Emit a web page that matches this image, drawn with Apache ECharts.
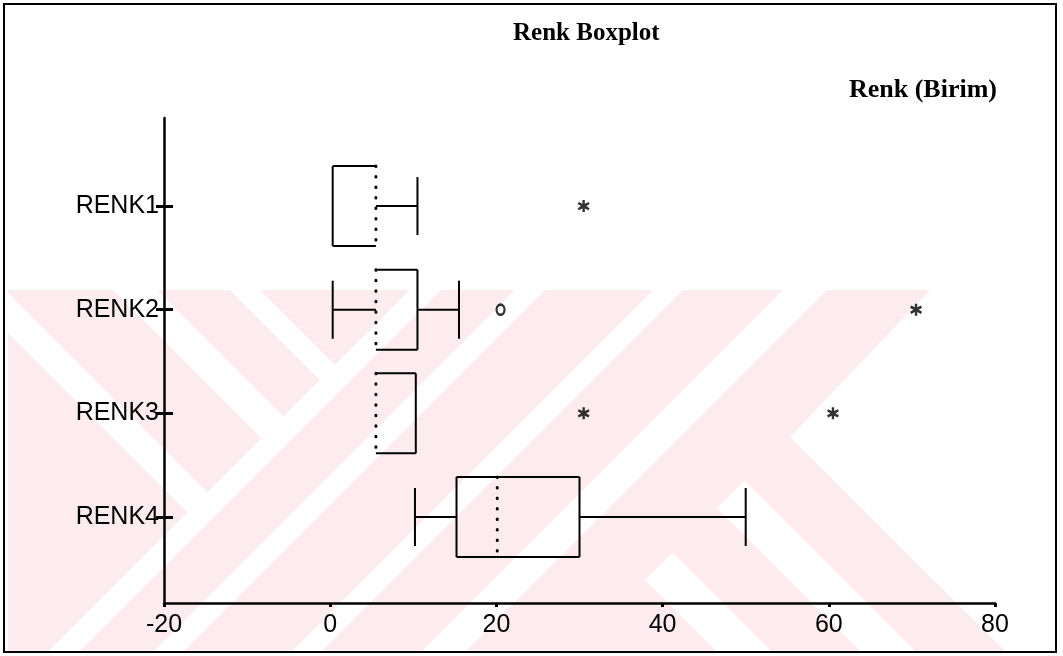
<!DOCTYPE html>
<html>
<head>
<meta charset="utf-8">
<script src="https://cdn.jsdelivr.net/npm/echarts@6/dist/echarts.min.js"></script>
<style>
html,body{margin:0;padding:0;background:#fff;}
#chart{width:1063px;height:656px;}
</style>
</head>
<body>
<div id="chart"></div>
<script>
// ---- data ----
const categories = ['RENK1', 'RENK2', 'RENK3', 'RENK4'];
const whiskerLow = [0.3, 0.3, 5.5, 10.2];
const q1 = [0.3, 5.5, 5.5, 15.2];
const median = [5.5, 5.5, 5.5, 20.1];
const q3 = [5.5, 10.5, 10.3, 30];
const whiskerHigh = [10.5, 15.5, 10.3, 50];
// outliers (o) and extremes (*)
const outlierCat = ['RENK2'];
const outlierVal = [20.5];
const extremeCat = ['RENK1', 'RENK2', 'RENK3', 'RENK3'];
const extremeVal = [30.5, 70.5, 30.5, 60.5];

const chart = echarts.init(document.getElementById('chart'), null, {renderer: 'canvas'});

const boxData = categories.map((c, i) => [i + 1, whiskerLow[i], q1[i], median[i], q3[i], whiskerHigh[i]]);
const outlierData = outlierCat.map((c, i) => [outlierVal[i], categories.indexOf(c) + 1]);
const extremeData = extremeCat.map((c, i) => [extremeVal[i], categories.indexOf(c) + 1]);
const catPos = categories.map((c, i) => i + 1);

function renderBox(params, api) {
  const yv = api.value(0);
  const lo = api.value(1), a = api.value(2), md = api.value(3), b = api.value(4), hi = api.value(5);
  const unit = api.size([0, 1])[1];
  const bh = unit * 0.386, ch = unit * 0.28;
  const cy = api.coord([md, yv])[1];
  const X = v => api.coord([v, yv])[0];
  const xa = X(a), xb = X(b), xm = X(md), xlo = X(lo), xhi = X(hi);
  const st = {stroke: '#000', lineWidth: 2, fill: null};
  const els = [];
  const L = (x1, y1, x2, y2, s) => els.push({type: 'line', shape: {x1, y1, x2, y2}, style: s || st});
  L(xa, cy - bh, xb, cy - bh);
  L(xa, cy + bh, xb, cy + bh);
  if (Math.abs(xa - xm) > 1) L(xa, cy - bh, xa, cy + bh);
  if (Math.abs(xb - xm) > 1) L(xb, cy - bh, xb, cy + bh);
  L(xm, cy - bh, xm, cy + bh, {stroke: '#000', lineWidth: 3, lineDash: [0.5, 10], lineCap: 'round', fill: null});
  if (xa - xlo > 1) { L(xlo, cy, xa, cy); L(xlo, cy - ch, xlo, cy + ch); }
  if (xhi - xb > 1) { L(xb, cy, xhi, cy); L(xhi, cy - ch, xhi, cy + ch); }
  return {type: 'group', children: els};
}

// ---- scanned-page watermark (decoration behind the chart) ----
const PINK = '#fdecef';
const wm = [];
function poly(points, fill, z2) {
  wm.push({type: 'polygon', silent: true, z: -5, z2: z2, shape: {points: points}, style: {fill: fill}});
}
poly([[8, 290], [930, 290], [790, 437], [1005, 651], [8, 651]], PINK, 0);
// "/" white bands (x+y ranges), top y=290 to bottom y=651
[[700, 731], [805, 835], [943, 973], [1073, 1117]].forEach(([k1, k2]) => {
  poly([[k1 - 290, 290], [k2 - 290, 290], [Math.max(k2 - 651, 8), 651], [Math.max(k1 - 651, 8), 651]], '#fff', 1);
});
// "\" white stubs at the upper left, ending at the first "/" band
[[-177, -133], [-60, -30]].forEach(([k1, k2]) => {
  poly([[k1 + 290, 290], [k2 + 290, 290], [(715 + k2) / 2, (715 - k2) / 2], [(715 + k1) / 2, (715 - k1) / 2]], '#fff', 1);
});
poly([[8, 293], [8, 333], [195, 520], [215, 500]], '#fff', 1);
// "\" white stubs at the lower right, starting at the outer "/" edge
[[65, 120], [209, 264]].forEach(([k1, k2]) => {
  poly([[(1225 + k1) / 2, (1225 - k1) / 2], [(1225 + k2) / 2, (1225 - k2) / 2], [k2 + 651, 651], [k1 + 651, 651]], '#fff', 1);
});

const labelFont = {fontFamily: 'Liberation Sans, Arial, sans-serif', fontSize: 25, color: '#000'};

const option = {
  backgroundColor: '#fff',
  animation: false,
  title: [
    {text: 'Renk Boxplot', left: 508, top: 16,
     textStyle: {fontFamily: 'Liberation Serif, Times New Roman, serif', fontWeight: 'bold', fontSize: 25, color: '#000'}},
    {text: 'Renk (Birim)', right: 61, top: 72,
     textStyle: {fontFamily: 'Liberation Serif, Times New Roman, serif', fontWeight: 'bold', fontSize: 26, color: '#000'}}
  ],
  graphic: wm.concat([
    {type: 'rect', z: 100, silent: true, shape: {x: 4, y: 4, width: 1052, height: 648},
     style: {fill: null, stroke: '#000', lineWidth: 2}}
  ]),
  grid: {left: 164, right: 68, top: 118, bottom: 53, containLabel: false},
  xAxis: {
    type: 'value', min: -20, max: 80, interval: 20,
    axisLine: {show: true, onZero: false, lineStyle: {color: '#000', width: 2.5}},
    axisTick: {show: true, length: 4, lineStyle: {color: '#000', width: 3}},
    axisLabel: Object.assign({margin: 10, formatter: v => String(v)}, labelFont),
    splitLine: {show: false}
  },
  yAxis: [
    {
      type: 'value', inverse: true, min: 0.15, max: 4.83,
      axisLine: {show: true, onZero: false, lineStyle: {color: '#000', width: 2.5}},
      axisTick: {show: true, customValues: catPos, length: 8, lineStyle: {color: '#000', width: 3}},
      axisLabel: Object.assign({customValues: catPos, margin: 5, formatter: v => categories[Math.round(v) - 1] || ''}, labelFont),
      splitLine: {show: false}
    },
    {
      type: 'value', inverse: true, min: 0.15, max: 4.83, position: 'left',
      axisLine: {show: false, onZero: false},
      axisTick: {show: true, inside: true, customValues: catPos, length: 9, lineStyle: {color: '#000', width: 3}},
      axisLabel: {show: false},
      splitLine: {show: false}
    }
  ],
  series: [
    {
      type: 'custom', name: 'box', xAxisIndex: 0, yAxisIndex: 0,
      renderItem: renderBox,
      encode: {x: [1, 2, 3, 4, 5], y: 0},
      data: boxData
    },
    {
      type: 'scatter', name: 'outlier', yAxisIndex: 0,
      symbol: 'circle', symbolSize: [8, 10],
      itemStyle: {color: 'rgba(0,0,0,0)', borderColor: '#000', borderWidth: 2.5},
      data: outlierData
    },
    {
      type: 'scatter', name: 'extreme', yAxisIndex: 0,
      symbol: 'path://M4,0 L6,0 L6,3 L9,1.5 L10,3.3 L7.2,5 L10,6.7 L9,8.5 L6,7 L6,10 L4,10 L4,7 L1,8.5 L0,6.7 L2.8,5 L0,3.3 L1,1.5 L4,3 Z',
      symbolSize: 12,
      itemStyle: {color: '#000'},
      data: extremeData
    }
  ]
};
chart.setOption(option);
</script>
</body>
</html>
